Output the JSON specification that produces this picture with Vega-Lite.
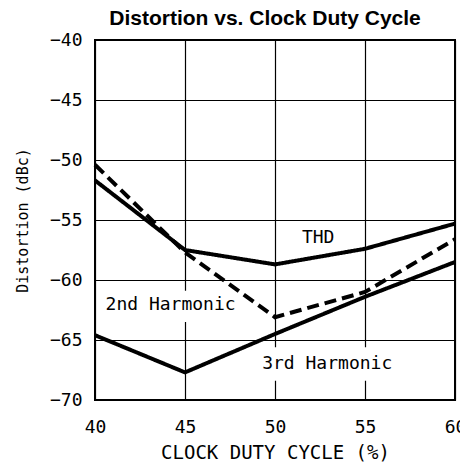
{
  "$schema": "https://vega.github.io/schema/vega-lite/v6.json",
  "autosize": "none",
  "width": 360,
  "height": 360,
  "padding": {"left": 95, "top": 40, "right": 5, "bottom": 74},
  "background": "white",
  "config": {
    "view": {"stroke": "black", "strokeWidth": 2},
    "axis": {
      "grid": true, "gridColor": "black", "gridOpacity": 1, "gridWidth": 1.2,
      "domain": false, "ticks": false, "labelFlush": false,
      "labelFont": "DejaVu Sans Mono", "labelFontSize": 18, "labelColor": "black",
      "titleFont": "DejaVu Sans Mono", "titleFontWeight": "normal", "titleColor": "black"
    }
  },
  "title": {
    "text": "Distortion vs. Clock Duty Cycle",
    "font": "Liberation Sans", "fontSize": 21, "fontWeight": "bold", "color": "black",
    "anchor": "middle", "dx": -10, "offset": 2
  },
  "datasets": {
    "curves": [
      {"duty": 40, "dist": -51.7, "series": "THD"},
      {"duty": 45, "dist": -57.5, "series": "THD"},
      {"duty": 50, "dist": -58.7, "series": "THD"},
      {"duty": 55, "dist": -57.4, "series": "THD"},
      {"duty": 60, "dist": -55.3, "series": "THD"},
      {"duty": 40, "dist": -50.4, "series": "2nd Harmonic"},
      {"duty": 45, "dist": -57.7, "series": "2nd Harmonic"},
      {"duty": 50, "dist": -63.1, "series": "2nd Harmonic"},
      {"duty": 55, "dist": -61.0, "series": "2nd Harmonic"},
      {"duty": 60, "dist": -56.6, "series": "2nd Harmonic"},
      {"duty": 40, "dist": -64.6, "series": "3rd Harmonic"},
      {"duty": 45, "dist": -67.7, "series": "3rd Harmonic"},
      {"duty": 50, "dist": -64.5, "series": "3rd Harmonic"},
      {"duty": 55, "dist": -61.4, "series": "3rd Harmonic"},
      {"duty": 60, "dist": -58.5, "series": "3rd Harmonic"}
    ],
    "labels": [
      {"label": "THD", "duty": 52.4, "dist": -56.5, "x0": 52.4, "x1": 52.4, "y0": -56.5, "y1": -56.5},
      {"label": "2nd Harmonic", "duty": 44.2, "dist": -62.1, "x0": 40.5, "x1": 47.9, "y0": -60.9, "y1": -63.5},
      {"label": "3rd Harmonic", "duty": 52.9, "dist": -67.0, "x0": 49.3, "x1": 56.5, "y0": -65.6, "y1": -68.4}
    ]
  },
  "layer": [
    {
      "data": {"name": "labels"},
      "mark": {"type": "rect", "fill": "white"},
      "encoding": {
        "x": {"field": "x0", "type": "quantitative", "scale": {"domain": [40, 60], "nice": false},
              "axis": {"values": [40, 45, 50, 55, 60], "labelPadding": 18, "title": "CLOCK DUTY CYCLE (%)", "titleFontSize": 19, "titleY": 52, "titleBaseline": "middle"}},
        "x2": {"field": "x1"},
        "y": {"field": "y0", "type": "quantitative", "scale": {"domain": [-70, -40], "nice": false},
              "axis": {"values": [-70, -65, -60, -55, -50, -45, -40], "labelPadding": 13, "title": "Distortion (dBc)", "titleFontSize": 15, "titleX": -73, "titleY": 180, "titleAlign": "center", "titleBaseline": "middle", "titleAngle": -90}},
        "y2": {"field": "y1"}
      }
    },
    {
      "data": {"name": "curves"},
      "mark": {"type": "line", "strokeWidth": 4, "strokeCap": "butt", "strokeJoin": "miter"},
      "encoding": {
        "x": {"field": "duty", "type": "quantitative"},
        "y": {"field": "dist", "type": "quantitative"},
        "color": {"field": "series", "type": "nominal", "scale": {"domain": ["THD", "2nd Harmonic", "3rd Harmonic"], "range": ["black", "black", "black"]}, "legend": null},
        "strokeDash": {"field": "series", "type": "nominal", "scale": {"domain": ["THD", "2nd Harmonic", "3rd Harmonic"], "range": [[1, 0], [12, 6], [1, 0]]}, "legend": null}
      }
    },
    {
      "data": {"name": "labels"},
      "mark": {"type": "text", "font": "DejaVu Sans Mono", "fontSize": 18, "color": "black", "align": "center", "baseline": "middle"},
      "encoding": {
        "x": {"field": "duty", "type": "quantitative"},
        "y": {"field": "dist", "type": "quantitative"},
        "text": {"field": "label"}
      }
    }
  ]
}
